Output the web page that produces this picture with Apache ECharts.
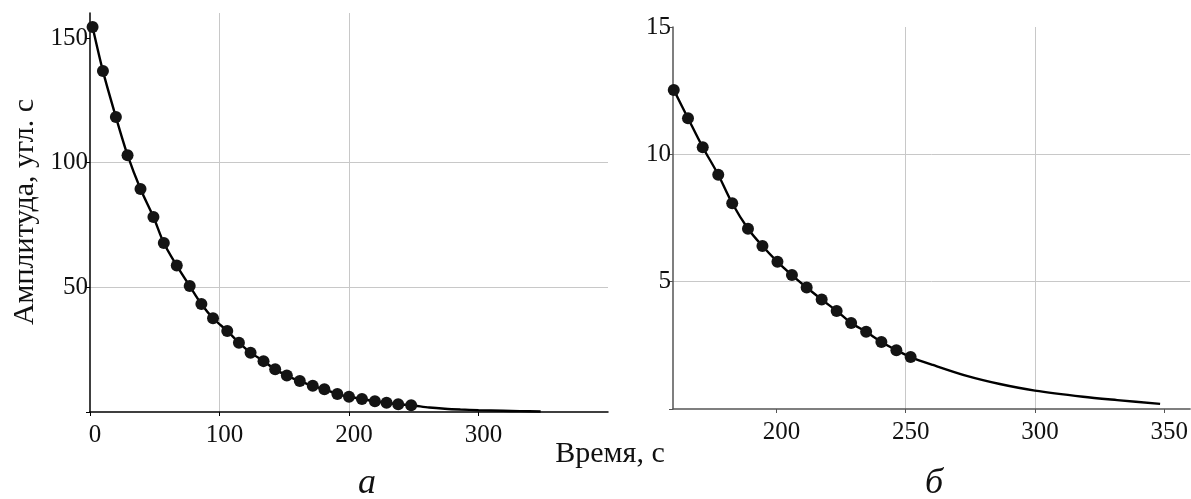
<!DOCTYPE html>
<html>
<head>
<meta charset="utf-8">
<script src="https://cdn.jsdelivr.net/npm/echarts@6/dist/echarts.min.js"></script>
<style>
  html, body { margin: 0; padding: 0; background: #fff; }
  #chart { width: 1191px; height: 499px; }
</style>
</head>
<body>
<div id="chart"></div>
<script>
// график а: точки измерений
const timeA = [2, 10, 20, 29, 39, 49, 57, 67, 77, 86, 95, 106, 115, 124, 134, 143, 152, 162, 172, 181, 191, 200, 210, 220, 229, 238, 248]
const ampA = [154.4, 136.7, 118.3, 103.0, 89.4, 78.2, 67.8, 58.7, 50.5, 43.3, 37.6, 32.5, 27.8, 23.8, 20.4, 17.1, 14.6, 12.4, 10.5, 9.1, 7.2, 6.1, 5.2, 4.3, 3.7, 3.1, 2.7]
// график а: хвост кривой после последней точки
const tailTimeA = [262, 274, 286, 300, 319, 332, 348]
const tailAmpA = [1.8, 1.3, 0.98, 0.72, 0.48, 0.35, 0.2]

// график б: точки измерений
const timeB = [160.3, 165.8, 171.5, 177.5, 182.9, 189, 194.6, 200.4, 206, 211.7, 217.5, 223.3, 228.9, 234.7, 240.6, 246.4, 251.9]
const ampB = [12.53, 11.42, 10.28, 9.2, 8.08, 7.08, 6.4, 5.78, 5.26, 4.77, 4.3, 3.85, 3.38, 3.03, 2.63, 2.31, 2.04]
// график б: хвост кривой
const tailTimeB = [260.5, 273.6, 286.4, 300, 318.6, 331.8, 348.4]
const tailAmpB = [1.73, 1.3, 0.98, 0.72, 0.48, 0.35, 0.2]

// деления и подписи осей
const xTicksA = [0, 100, 200, 300]
const xLabelsA = [0, 100, 200, 300]
const yTicksA = [0, 50, 100, 150]
const yLabelsA = [50, 100, 150]
const xTicksB = [200, 250, 300, 350]
const xLabelsB = [200, 250, 300, 350]
const yTicksB = [0, 5, 10, 15]
const yLabelsB = [5, 10, 15]

const font = 'Liberation Serif'
const toPairs = (xs, ys) => xs.map((x, i) => [x, ys[i]])
const curveA = toPairs(timeA, ampA).concat(toPairs(tailTimeA, tailAmpA))
const curveB = toPairs(timeB, ampB).concat(toPairs(tailTimeB, tailAmpB))

const axisCommon = (color, ticks, labels, isX) => ({
  type: 'value',
  axisLine: { show: true, onZero: false, lineStyle: { color: color, width: 1.5 } },
  axisTick: { show: true, length: 4, customValues: ticks, lineStyle: { color: color, width: 1 } },
  axisLabel: {
    customValues: labels,
    color: '#111',
    fontFamily: font,
    fontSize: 25,
    margin: isX ? 11 : 2,
    padding: isX ? [0, 0, 0, 10] : [6, 0, 0, 0]
  },
  splitLine: { show: true, showMinLine: false, showMaxLine: false, lineStyle: { color: '#c8c8c8', width: 1 } }
})

const myChart = echarts.init(document.getElementById('chart'))
const option = {
  backgroundColor: '#fff',
  animation: false,
  grid: [
    { left: 90, top: 13, width: 518, height: 399 },
    { left: 673, top: 27, width: 518, height: 382 }
  ],
  xAxis: [
    Object.assign(axisCommon('#000', xTicksA, xLabelsA, true), { gridIndex: 0, min: 0, max: 400 }),
    Object.assign(axisCommon('#555', xTicksB, xLabelsB, true), { gridIndex: 1, min: 160, max: 360 })
  ],
  yAxis: [
    Object.assign(axisCommon('#000', yTicksA, yLabelsA, false), { gridIndex: 0, min: 0, max: 160, interval: 50 }),
    Object.assign(axisCommon('#555', yTicksB, yLabelsB, false), { gridIndex: 1, min: 0, max: 15, interval: 5 })
  ],
  series: [
    {
      type: 'line', xAxisIndex: 0, yAxisIndex: 0, data: curveA, smooth: 0.3,
      showSymbol: false, lineStyle: { color: '#000', width: 2.4 }, z: 2
    },
    {
      type: 'scatter', xAxisIndex: 0, yAxisIndex: 0, data: toPairs(timeA, ampA),
      symbolSize: 12, itemStyle: { color: '#141414', opacity: 1 }, z: 3
    },
    {
      type: 'line', xAxisIndex: 1, yAxisIndex: 1, data: curveB, smooth: 0.3,
      showSymbol: false, lineStyle: { color: '#000', width: 2.4 }, z: 2
    },
    {
      type: 'scatter', xAxisIndex: 1, yAxisIndex: 1, data: toPairs(timeB, ampB),
      symbolSize: 12, itemStyle: { color: '#141414', opacity: 1 }, z: 3
    }
  ],
  graphic: [
    {
      type: 'text', x: 25, y: 212, rotation: Math.PI / 2,
      style: { text: 'Амплитуда, угл. с', fontFamily: font, fontSize: 30, fill: '#111', textAlign: 'center', textVerticalAlign: 'middle' }
    },
    {
      type: 'text', x: 610, y: 454,
      style: { text: 'Время, с', fontFamily: font, fontSize: 30, fill: '#111', textAlign: 'center', textVerticalAlign: 'middle' }
    },
    {
      type: 'text', x: 367, y: 484,
      style: { text: 'а', fontFamily: font, fontStyle: 'italic', fontSize: 36, fill: '#111', textAlign: 'center', textVerticalAlign: 'middle' }
    },
    {
      type: 'text', x: 934, y: 484,
      style: { text: 'б', fontFamily: font, fontStyle: 'italic', fontSize: 36, fill: '#111', textAlign: 'center', textVerticalAlign: 'middle' }
    }
  ]
}
myChart.setOption(option)
</script>
</body>
</html>
